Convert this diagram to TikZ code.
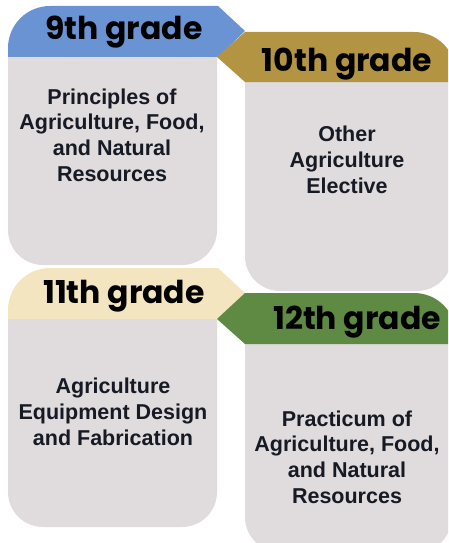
\documentclass[tikz,border=0pt]{standalone}
\usepackage{xcolor}
\usepackage{fontspec}
\setmainfont{Liberation Sans}
\newfontfamily\gradefont{Poppins}
\usetikzlibrary{calc,positioning}

\definecolor{cardgrey}{HTML}{E0DBDC}
\definecolor{gradeblue}{HTML}{6A93D4}
\definecolor{gradegold}{HTML}{B39443}
\definecolor{gradecream}{HTML}{F3E5C0}
\definecolor{gradegreen}{HTML}{5E8A43}
\definecolor{coursetext}{HTML}{151A25}

\begin{document}
\begin{tikzpicture}[x=1pt,y=-1pt,
    grade/.style={anchor=base, inner sep=0pt, text=black,
      font=\gradefont\bfseries\fontsize{31.5}{32}\selectfont},
    course/.style={align=center, inner sep=0pt, text=coursetext,
      font=\bfseries\fontsize{21.5}{25.7}\selectfont}]
    \useasboundingbox (0,0) rectangle (448,543);
    \clip (0,0) rectangle (448,543);

    % 9th grade
    \fill[cardgrey] (8,57) [rounded corners=35pt] -- (8,265) -- (217,265) [sharp corners] -- (217,57) -- cycle;
    \fill[gradeblue] (8,57) [rounded corners=42pt] -- (8,6) [sharp corners] -- (218,6) -- (245,31) -- (218,57) -- cycle;
    \node[grade] (g9) at (124,40) {9th grade};
    \node[course] (c9) at (112,135) {Principles of\\Agriculture, Food,\\and Natural\\Resources};

    % 10th grade
    \fill[cardgrey] (245,82) [rounded corners=35pt] -- (245,291) -- (452,291) [sharp corners] -- (452,82) -- cycle;
    \fill[gradegold] (245,82) -- (217,57) -- (245,32) [rounded corners=42pt] -- (456,32) [sharp corners] -- (456,82) -- cycle;
    \node[grade] (g10) at (347,71) {10th grade};
    \node[course] (c10) at (347,160) {Other\\Agriculture\\Elective};

    % 11th grade
    \fill[cardgrey] (8,319) [rounded corners=35pt] -- (8,527) -- (217,527) [sharp corners] -- (217,319) -- cycle;
    \fill[gradecream] (8,319) [rounded corners=42pt] -- (8,268) [sharp corners] -- (218,268) -- (245,293) -- (218,319) -- cycle;
    \node[grade] (g11) at (124,303) {11th grade};
    \node[course] (c11) at (113,412) {Agriculture\\Equipment Design\\and Fabrication};

    % 12th grade
    \fill[cardgrey] (245,344) [rounded corners=35pt] -- (245,552) -- (452,552) [sharp corners] -- (452,344) -- cycle;
    \fill[gradegreen] (245,344) -- (217,319) -- (245,293) [rounded corners=42pt] -- (456,293) [sharp corners] -- (456,344) -- cycle;
    \node[grade] (g12) at (357,329) {12th grade};
    \node[course] (c12) at (347,457) {Practicum of\\Agriculture, Food,\\and Natural\\Resources};
\end{tikzpicture}
\end{document}
